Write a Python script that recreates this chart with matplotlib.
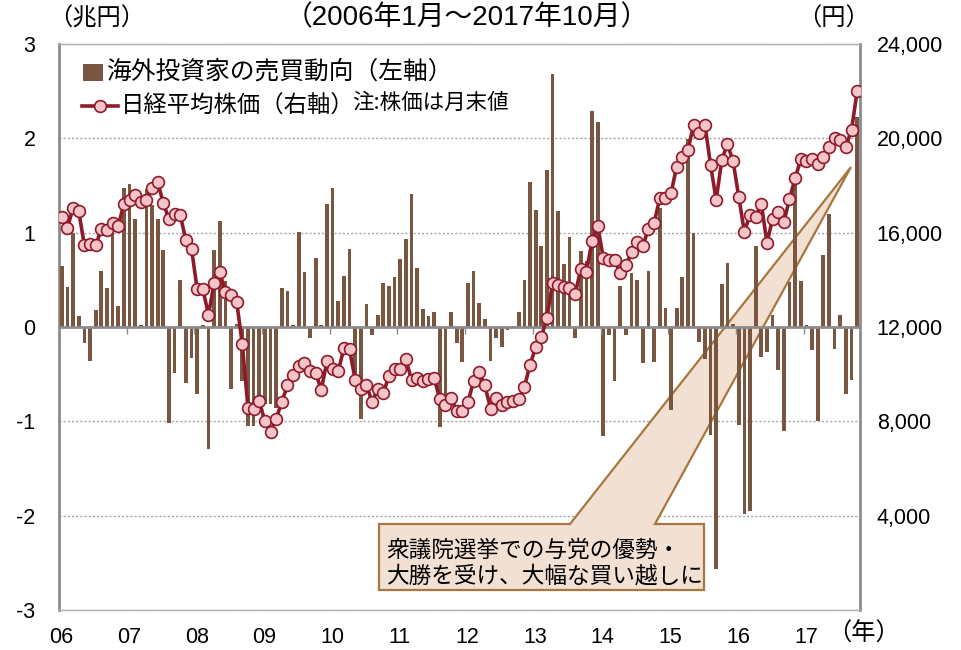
import numpy as np
import matplotlib
matplotlib.use("Agg")
import matplotlib.pyplot as plt
from matplotlib.patches import Polygon, Rectangle
from matplotlib.lines import Line2D
from matplotlib.ticker import FuncFormatter

plt.rcParams['font.family'] = ['Liberation Sans', 'Noto Sans CJK JP', 'DejaVu Sans']
JP = ['Noto Sans CJK JP', 'DejaVu Sans']

# foreign investors' net buying, trillion yen (Jan 2006 - Oct 2017)
flows_2006 = [0.65, 0.42, 1.00, 0.12, -0.17, -0.36, 0.18, 0.59, 0.41, 1.00, 0.22, 1.47]
flows_2007 = [1.52, 1.15, 0.02, 1.46, 1.29, 1.15, 0.82, -1.02, -0.49, 0.50, -0.59, -0.33]
flows_2008 = [-0.71, 0.02, -1.29, 0.82, 1.12, 0.49, -0.66, 0.03, -0.57, -1.05, -1.05, -0.82]
flows_2009 = [-0.82, -0.82, -0.86, 0.41, 0.38, 0.02, 1.01, 0.58, -0.12, 0.73, 0.02, 1.30]
flows_2010 = [1.47, 0.28, 0.54, 0.83, -0.55, -0.98, 0.24, -0.08, 0.13, 0.47, 0.43, 0.53]
flows_2011 = [0.72, 0.93, 1.41, 0.63, 0.19, 0.12, 0.16, -1.06, -0.84, 0.16, -0.17, -0.37]
flows_2012 = [0.47, 0.59, 0.25, 0.09, -0.36, -0.12, -0.21, -0.03, 0.01, 0.16, 0.50, 1.54]
flows_2013 = [1.24, 0.86, 1.66, 2.68, 1.23, 0.67, 0.95, -0.12, 0.81, 0.70, 2.29, 2.17]
flows_2014 = [-1.16, -0.08, -0.57, 0.43, -0.08, 0.57, 0.50, -0.38, 0.59, -0.37, 1.26, 0.20]
flows_2015 = [-0.88, 0.20, 0.53, 1.99, 1.00, -0.16, -0.34, -1.15, -2.57, 0.46, 0.68, 0.03]
flows_2016 = [-1.04, -1.98, -1.95, 0.86, -0.32, -0.26, 0.13, -0.46, -1.10, 0.48, 1.55, 0.49]
flows_2017 = [0.02, -0.24, -1.00, 0.76, 1.20, -0.23, 0.13, -0.71, -0.56, 2.23]

# Nikkei average, month-end (yen)
nikkei_2006 = [16650, 16205, 17060, 16906, 15467, 15505, 15457, 16140, 16127, 16399, 16274, 17225]
nikkei_2007 = [17383, 17604, 17288, 17400, 17875, 18138, 17248, 16569, 16785, 16737, 15680, 15307]
nikkei_2008 = [13592, 13603, 12525, 13849, 14338, 13481, 13376, 13072, 11259, 8577, 8512, 8860]
nikkei_2009 = [7994, 7568, 8109, 8828, 9523, 9958, 10357, 10492, 10133, 10034, 9345, 10546]
nikkei_2010 = [10198, 10126, 11089, 11057, 9768, 9382, 9537, 8824, 9369, 9202, 9937, 10229]
nikkei_2011 = [10237, 10624, 9755, 9850, 9694, 9816, 9833, 8955, 8700, 8988, 8435, 8455]
nikkei_2012 = [8803, 9723, 10084, 9521, 8543, 9007, 8695, 8840, 8870, 8928, 9446, 10395]
nikkei_2013 = [11139, 11559, 12398, 13861, 13775, 13677, 13668, 13389, 14456, 14328, 15662, 16291]
nikkei_2014 = [14915, 14841, 14828, 14304, 14632, 15162, 15621, 15425, 16174, 16414, 17460, 17451]
nikkei_2015 = [17674, 18798, 19207, 19520, 20563, 20236, 20585, 18890, 17388, 19083, 19747, 19034]
nikkei_2016 = [17518, 16027, 16759, 16666, 17235, 15576, 16569, 16887, 16450, 17425, 18308, 19114]
nikkei_2017 = [19041, 19119, 18909, 19197, 19651, 20033, 19925, 19646, 20356, 22012]

year_labels = ['06', '07', '08', '09', '10', '11', '12', '13', '14', '15', '16', '17']

flows = (flows_2006 + flows_2007 + flows_2008 + flows_2009 + flows_2010 + flows_2011
         + flows_2012 + flows_2013 + flows_2014 + flows_2015 + flows_2016 + flows_2017)
nikkei = (nikkei_2006 + nikkei_2007 + nikkei_2008 + nikkei_2009 + nikkei_2010 + nikkei_2011
          + nikkei_2012 + nikkei_2013 + nikkei_2014 + nikkei_2015 + nikkei_2016 + nikkei_2017)
months = np.arange(len(flows))

bar_color = '#7a5540'
line_color = '#8e1b2a'
marker_face = '#f5c4c9'
axis_gray = '#8c8c8c'

W, H = 961, 650
fig = plt.figure(figsize=(W / 100, H / 100), dpi=100)
ax = fig.add_axes([59 / W, 40 / H, 801 / W, 566 / H])

def fig_xy(px, py):
    # pixel position (from top-left) -> figure fraction
    return (px / W, 1 - py / H)

# bars
ax.set_axisbelow(True)
ax.bar(months, flows, width=0.66, color=bar_color, zorder=3)
ax.set_xlim(-0.5, len(flows) - 0.5)
ax.set_ylim(-3, 3)
ax.set_yticks(range(-3, 4))
ax.set_yticklabels([str(v) for v in range(-3, 4)])
ax.yaxis.grid(True, linestyle=(0, (1.5, 1.5)), color='#a6a6a6', linewidth=1)
ax.axhline(0, color=axis_gray, linewidth=2, zorder=4)
ax.vlines(np.arange(12, len(flows), 12) - 0.5, -0.075, 0, color=axis_gray, linewidth=1, zorder=4)

ax.set_xticks(np.arange(0, len(flows), 12) - 0.1)
ax.set_xticklabels(year_labels)
ax.tick_params(axis='x', length=0, pad=12, labelsize=15.5)
ax.tick_params(axis='y', length=0, pad=17, labelsize=15.5)
for lab in ax.get_yticklabels():
    lab.set_horizontalalignment('right')

for side in ['left', 'right']:
    ax.spines[side].set_color(axis_gray)
    ax.spines[side].set_linewidth(2)
for side in ['top', 'bottom']:
    ax.spines[side].set_color('#b0b0b0')
    ax.spines[side].set_linewidth(1)

# Nikkei on right axis
ax2 = ax.twinx()
ax2.plot(months, nikkei, color=line_color, linewidth=2.6, marker='o',
         markersize=8.5, markerfacecolor=marker_face, markeredgecolor=line_color,
         markeredgewidth=1.2, zorder=5)
ax2.set_ylim(0, 24000)
ax2.set_yticks(range(4000, 24001, 4000))
ax2.yaxis.set_major_formatter(FuncFormatter(lambda v, p: f'{int(v):,}'))
ax2.tick_params(axis='y', length=0, pad=12, labelsize=15.5)
for sp in ax2.spines.values():
    sp.set_visible(False)

# callout
box_l, box_r, box_t, box_b = 379, 704, 524, 590
tip = (851, 167)
pts = [(box_l, box_t), (570, box_t), tip, (655, box_t), (box_r, box_t),
       (box_r, box_b), (box_l, box_b)]
callout = Polygon([fig_xy(*p) for p in pts], closed=True, transform=fig.transFigure,
                  facecolor='#f2e1d3', edgecolor='#a8763f', linewidth=1.6, zorder=2)
ax.add_patch(callout)
fig.text(*fig_xy(386, 563), '衆議院選挙での与党の優勢・\n大勝を受け、大幅な買い越しに',
         family=JP, fontsize=16.3, ha='left', va='center', linespacing=1.12)

# legend, drawn by hand
fig.add_artist(Rectangle(fig_xy(83, 81), 20 / W, 17 / H, transform=fig.transFigure,
                         facecolor=bar_color, edgecolor='none'))
fig.text(*fig_xy(106, 72), '海外投資家の売買動向（左軸）', family=JP, fontsize=17.8,
         ha='left', va='center')
fig.add_artist(Line2D([82 / W, 118 / W], [1 - 106 / H, 1 - 106 / H], transform=fig.transFigure,
                      color=line_color, linewidth=2.6))
fig.add_artist(Line2D([100 / W], [1 - 106 / H], transform=fig.transFigure, marker='o',
                      markersize=8.5, markerfacecolor=marker_face, markeredgecolor=line_color,
                      markeredgewidth=1.2))
fig.text(*fig_xy(121, 106), '日経平均株価（右軸）', family=JP, fontsize=16.8,
         ha='left', va='center')
fig.text(*fig_xy(352, 103), '注:株価は月末値', family=JP, fontsize=15.5, ha='left', va='center')

# header texts
fig.text(*fig_xy(467, 18), '（2006年1月～2017年10月）', fontsize=20, ha='center', va='center')
fig.text(*fig_xy(97, 19), '（兆円）', family=JP, fontsize=17.5, ha='center', va='center')
fig.text(*fig_xy(833, 19), '（円）', family=JP, fontsize=17.5, ha='center', va='center')
fig.text(*fig_xy(864, 634), '（年）', family=JP, fontsize=17.5, ha='center', va='center')

fig.savefig('out.png', dpi=100)
